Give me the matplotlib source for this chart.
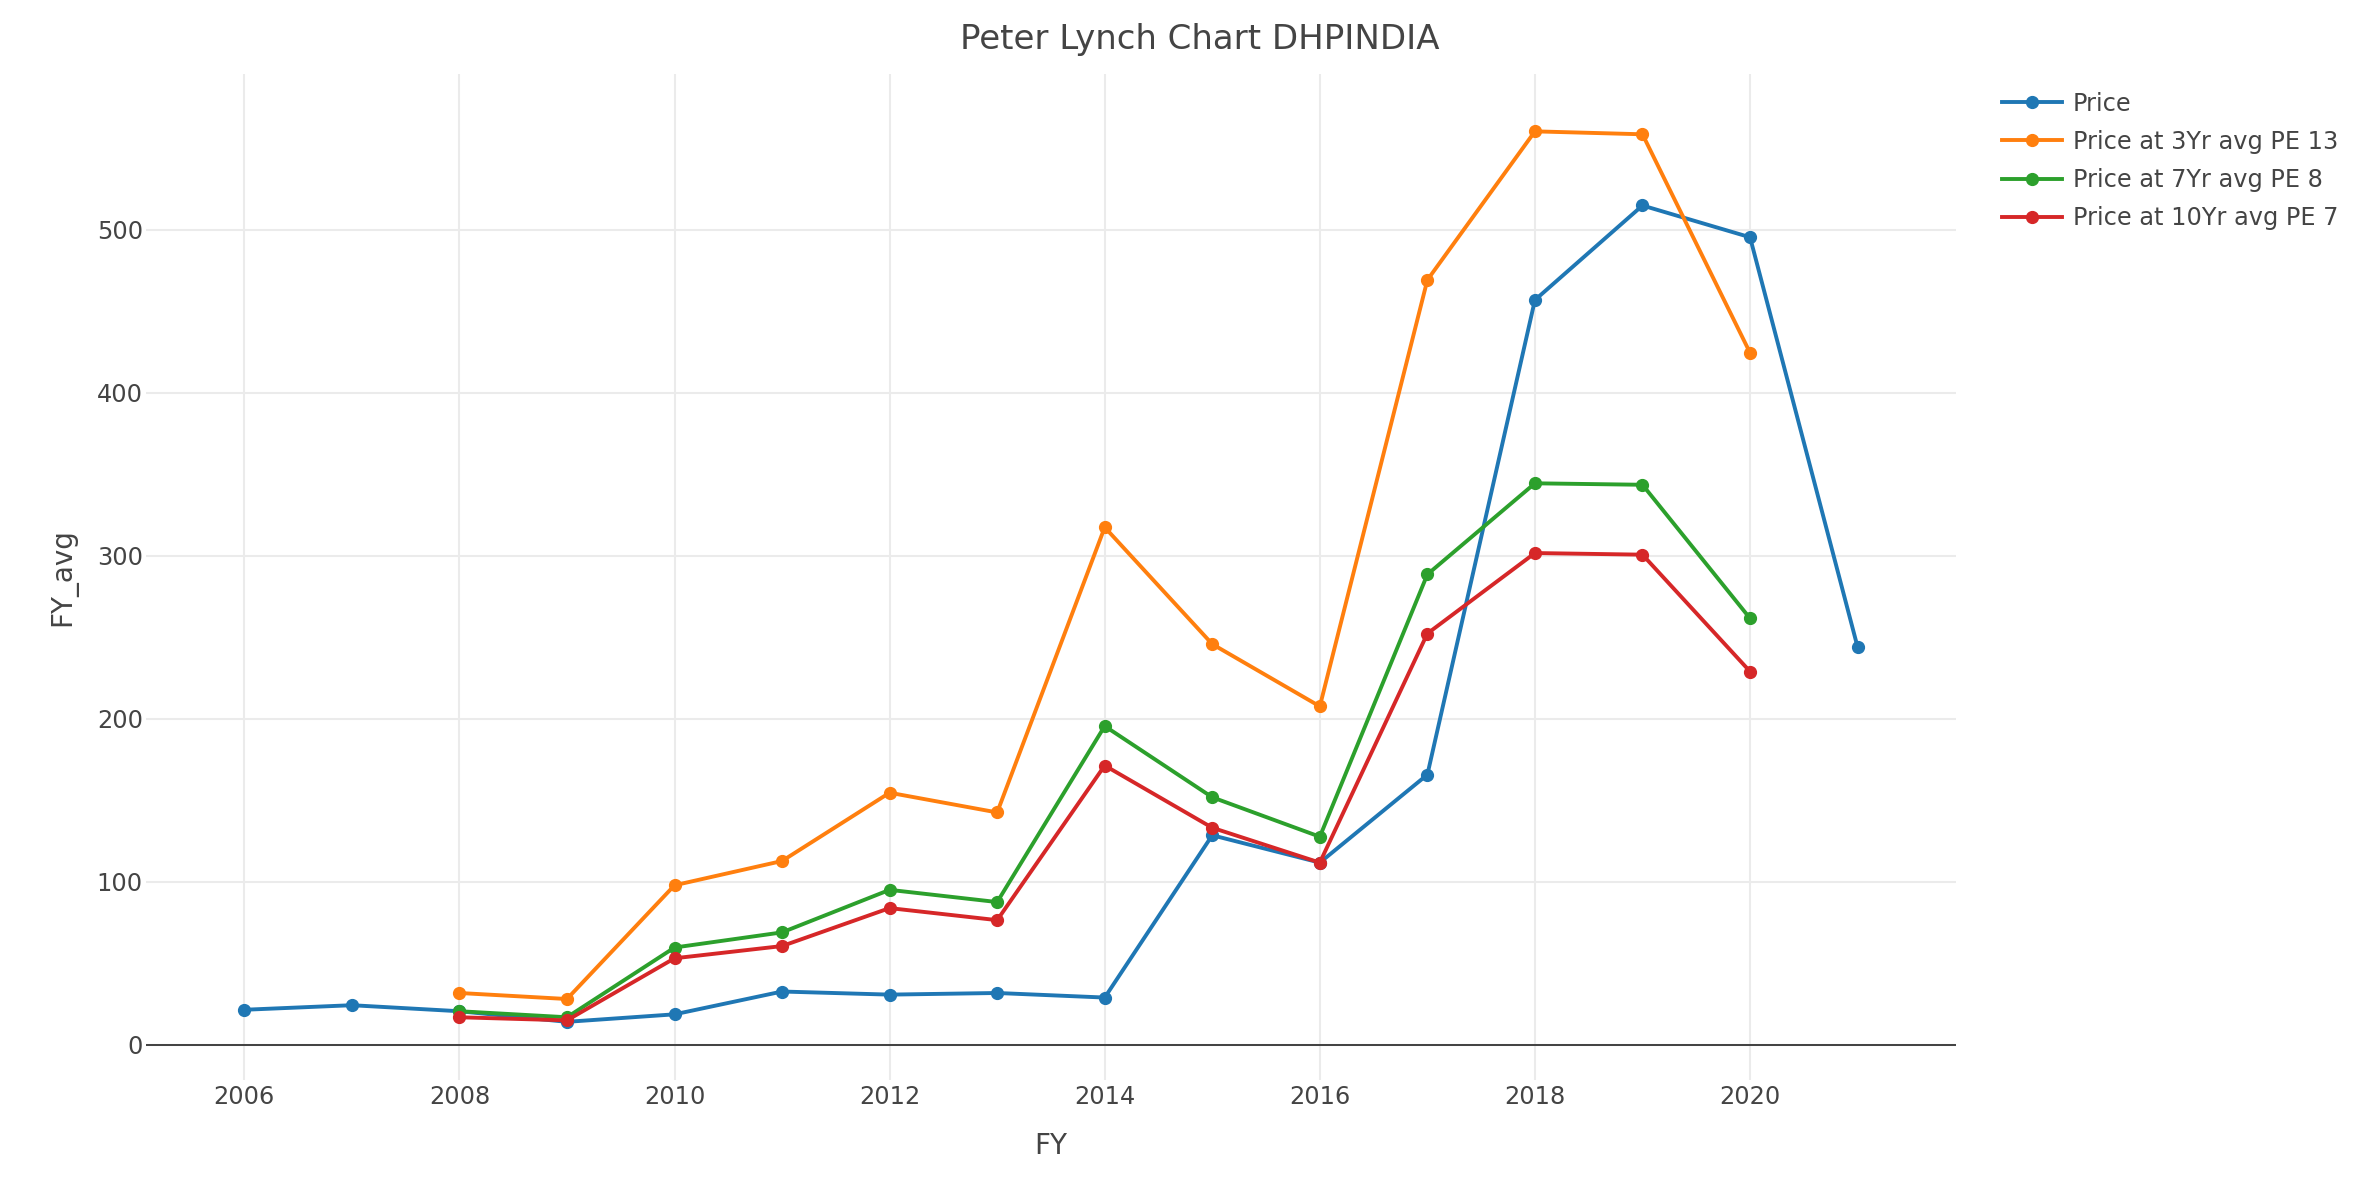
import matplotlib
matplotlib.use("Agg")
import matplotlib.pyplot as plt

plt.rcParams['font.family'] = ['DejaVu Sans']

years = [2006, 2007, 2008, 2009, 2010, 2011, 2012, 2013, 2014, 2015, 2016, 2017, 2018, 2019, 2020, 2021]
price = [21.4, 24.2, 20.5, 14.0, 18.6, 32.6, 30.7, 31.7, 28.9, 128.5, 111.7, 165.7, 457.0, 515.0, 495.5, 244.0]

pe_years = [2008, 2009, 2010, 2011, 2012, 2013, 2014, 2015, 2016, 2017, 2018, 2019, 2020]
pe3 = [31.7, 28.0, 97.8, 112.7, 154.6, 142.5, 317.5, 245.8, 207.6, 469.3, 560.5, 558.7, 424.6]
pe7 = [20.5, 16.8, 59.6, 68.9, 95.0, 87.5, 195.5, 151.8, 127.6, 288.6, 344.5, 343.6, 261.6]
pe10 = [16.8, 14.9, 53.0, 60.5, 83.8, 76.4, 171.3, 133.1, 111.7, 252.3, 301.7, 300.7, 229.0]

labels = ["Price", "Price at 3Yr avg PE 13", "Price at 7Yr avg PE 8", "Price at 10Yr avg PE 7"]
colors = ["#1f77b4", "#ff7f0e", "#2ca02c", "#d62728"]
x_ticks = [2006, 2008, 2010, 2012, 2014, 2016, 2018, 2020]
y_ticks = [0, 100, 200, 300, 400, 500]

fig = plt.figure(figsize=(23.8, 11.84), dpi=100)
ax = fig.add_axes([0.06134, 0.08784, 0.82185 - 0.06134, 0.9375 - 0.08784])

series = [(years, price), (pe_years, pe3), (pe_years, pe7), (pe_years, pe10)]
handles = []
for (xs, ys), lab, c in zip(series, labels, colors):
    h, = ax.plot(xs, ys, color=c, lw=2.8, marker='o', ms=8.5, label=lab, zorder=3)
    handles.append(h)

ax.set_xlim(2005.086, 2021.915)
ax.set_ylim(-21.7, 595.7)
ax.set_xticks(x_ticks)
ax.set_yticks(y_ticks)
ax.grid(True, color='#ebebeb', lw=1.45, zorder=0)
ax.axhline(0, color='#444444', lw=1.45, zorder=2)
for s in ax.spines.values():
    s.set_visible(False)
ax.tick_params(axis='both', length=0, labelsize=17.3, labelcolor='#444444')
ax.tick_params(axis='y', pad=2.2)
ax.tick_params(axis='x', pad=3.5)

fig.text(0.504, 0.9584, "Peter Lynch Chart DHPINDIA", ha='center', va='baseline',
         fontsize=24.5, color='#444444')
fig.text(0.0265, 0.513, "FY_avg", rotation=90, ha='center', va='center',
         fontsize=20, color='#444444')
fig.text(0.4416, 0.0253, "FY", ha='center', va='baseline', fontsize=20, color='#444444')

fig.legend(handles=handles, labels=labels, loc='upper left',
           bbox_to_anchor=(0.8411, 0.9226), frameon=False, fontsize=17.3,
           labelcolor='#444444', handlelength=2.5, handletextpad=0.46,
           labelspacing=0.59, borderaxespad=0, borderpad=0)

fig.savefig("out.png", dpi=100, facecolor='white')
